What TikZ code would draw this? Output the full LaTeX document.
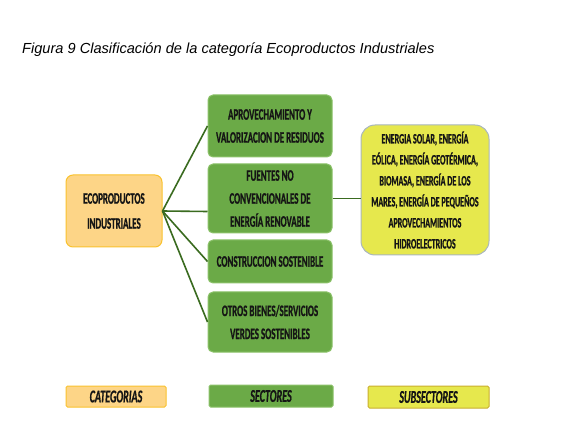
\documentclass[tikz,border=0pt]{standalone}
\usepackage{fontspec}
\setmainfont{Liberation Sans}
\newfontfamily\cond[FakeStretch=0.56,FakeBold=0.8]{Carlito}
\usetikzlibrary{calc}
\definecolor{orfill}{HTML}{FDD587}
\definecolor{ordraw}{HTML}{F9C22E}
\definecolor{grfill}{HTML}{6BAA47}
\definecolor{grdraw}{HTML}{8CC26A}
\definecolor{yefill}{HTML}{E6E84D}
\definecolor{yedraw}{HTML}{A9B6BE}
\definecolor{yeleg}{HTML}{C9AE2E}
\definecolor{conn}{HTML}{3A6B20}
\definecolor{txt}{HTML}{151515}
\tikzset{
  box/.style={rectangle, inner sep=0pt, align=center, text=txt, line width=1pt},
  catbox/.style={box, fill=orfill, draw=ordraw, rounded corners=7pt,
     font=\cond\bfseries\fontsize{16}{25}\selectfont},
  secbox/.style={box, fill=grfill, draw=grdraw, rounded corners=5pt,
     minimum width=124pt, font=\cond\bfseries\fontsize{16}{23}\selectfont},
  subbox/.style={box, fill=yefill, draw=yedraw, rounded corners=14pt,
     font=\cond\bfseries\fontsize{14.3}{21}\selectfont},
  legbox/.style={box, rounded corners=1.5pt,
     font=\cond\bfseries\itshape\fontsize{18}{20}\selectfont},
  link/.style={draw=conn, line width=1.6pt}
}
\begin{document}
\begin{tikzpicture}[x=1pt,y=-1pt]
\useasboundingbox (0,0) rectangle (581,438);
\node[anchor=base west, inner sep=0pt, font=\itshape\fontsize{14.6}{16}\selectfont] (title) at (22,54)
  {Figura 9 Clasificación de la categoría Ecoproductos Industriales};

\node[catbox, minimum width=96pt, minimum height=72pt] (cat) at (114,211)
  {ECOPRODUCTOS\\INDUSTRIALES};

\node[secbox, minimum height=62pt] (s1) at (270,126)
  {APROVECHAMIENTO Y\\VALORIZACION DE RESIDUOS};
\node[secbox, minimum height=69pt] (s2) at (270,198.5)
  {FUENTES NO\\CONVENCIONALES DE\\ENERGÍA RENOVABLE};
\node[secbox, minimum height=43pt] (s3) at (270,261.5)
  {CONSTRUCCION SOSTENIBLE};
\node[secbox, minimum height=60pt] (s4) at (270,322)
  {OTROS BIENES/SERVICIOS\\VERDES SOSTENIBLES};

\node[subbox, minimum width=128pt, minimum height=130pt] (sub) at (425,190)
  {ENERGIA SOLAR, ENERGÍA\\EÓLICA, ENERGÍA GEOTÉRMICA,\\BIOMASA, ENERGÍA DE LOS\\MARES, ENERGÍA DE PEQUEÑOS\\APROVECHAMIENTOS\\HIDROELECTRICOS};

\draw[link] (cat.east) -- (s1.west);
\draw[link] (cat.east) -- ([yshift=-13pt]s2.west);
\draw[link] (cat.east) -- (s3.west);
\draw[link] (cat.east) -- (s4.west);
\draw[link] (s2.east) -- (s2.east -| sub.west);

\node[legbox, fill=orfill, draw=ordraw, minimum width=100pt, minimum height=21pt] (leg1) at (116,396.5) {CATEGORIAS};
\node[legbox, fill=grfill, draw=grdraw, minimum width=124pt, minimum height=22pt] (leg2) at (271,396) {SECTORES};
\node[legbox, fill=yefill, draw=yeleg, minimum width=121pt, minimum height=22pt] (leg3) at (428.5,397) {SUBSECTORES};
\end{tikzpicture}
\end{document}
